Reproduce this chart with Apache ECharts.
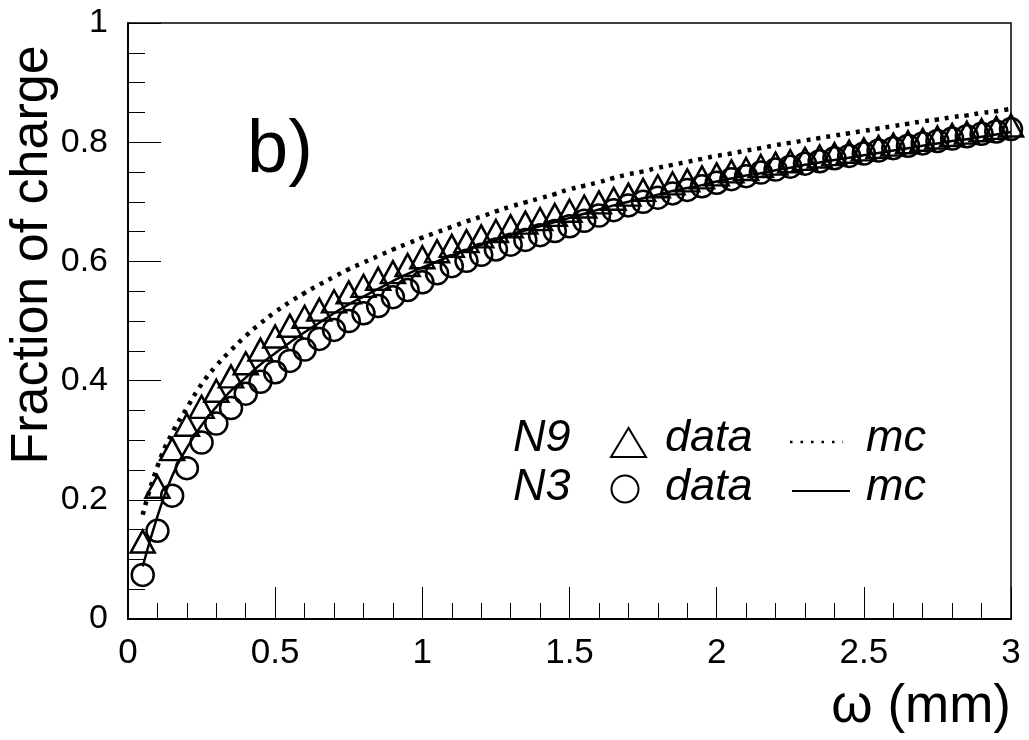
<!DOCTYPE html>
<html>
<head>
<meta charset="utf-8">
<script src="https://cdn.jsdelivr.net/npm/echarts@6/dist/echarts.min.js"></script>
<style>html,body{margin:0;padding:0;background:#fff}#c{width:1029px;height:740px}</style>
</head>
<body>
<div id="c"></div>
<script>
const omega = [0.05,0.10,0.15,0.20,0.25,0.30,0.35,0.40,0.45,0.50,0.55,0.60,0.65,0.70,0.75,0.80,0.85,0.90,0.95,1.00,
  1.05,1.10,1.15,1.20,1.25,1.30,1.35,1.40,1.45,1.50,1.55,1.60,1.65,1.70,1.75,1.80,1.85,1.90,1.95,2.00,
  2.05,2.10,2.15,2.20,2.25,2.30,2.35,2.40,2.45,2.50,2.55,2.60,2.65,2.70,2.75,2.80,2.85,2.90,2.95,3.00];

const n9Data = [0.130,0.222,0.285,0.326,0.356,0.383,0.407,0.429,0.452,0.474,0.492,0.507,0.519,0.533,0.548,0.559,0.571,0.582,0.594,0.607,
  0.617,0.626,0.634,0.642,0.651,0.659,0.665,0.671,0.678,0.685,0.692,0.699,0.705,0.712,0.720,0.726,0.731,0.736,0.741,0.746,
  0.751,0.755,0.760,0.764,0.768,0.772,0.776,0.780,0.784,0.788,0.792,0.796,0.800,0.804,0.808,0.812,0.816,0.820,0.824,0.828];

const n3Data = [0.074,0.148,0.207,0.253,0.296,0.328,0.354,0.378,0.398,0.414,0.433,0.452,0.470,0.485,0.500,0.513,0.525,0.540,0.552,0.565,
  0.580,0.592,0.601,0.611,0.620,0.628,0.636,0.644,0.651,0.659,0.668,0.677,0.686,0.694,0.700,0.707,0.714,0.720,0.726,0.732,
  0.738,0.743,0.749,0.754,0.759,0.764,0.768,0.773,0.777,0.781,0.786,0.790,0.794,0.798,0.802,0.806,0.810,0.814,0.818,0.822];

const n9Mc = [0.175,0.256,0.312,0.354,0.394,0.425,0.451,0.475,0.496,0.515,0.532,0.547,0.561,0.574,0.587,0.598,0.609,0.620,0.630,0.640,
  0.649,0.658,0.667,0.675,0.684,0.692,0.699,0.706,0.713,0.721,0.727,0.733,0.740,0.746,0.751,0.757,0.762,0.767,0.772,0.777,
  0.781,0.786,0.790,0.795,0.799,0.803,0.807,0.811,0.815,0.819,0.823,0.827,0.831,0.835,0.838,0.842,0.845,0.849,0.852,0.856];

const n3Mc = [0.088,0.172,0.240,0.287,0.325,0.356,0.383,0.405,0.427,0.446,0.464,0.481,0.497,0.513,0.528,0.541,0.554,0.567,0.579,0.590,
  0.600,0.610,0.619,0.628,0.636,0.644,0.652,0.659,0.666,0.673,0.680,0.687,0.694,0.700,0.706,0.712,0.718,0.723,0.728,0.734,
  0.739,0.744,0.748,0.753,0.757,0.762,0.766,0.770,0.774,0.778,0.782,0.786,0.790,0.794,0.798,0.802,0.805,0.809,0.813,0.817];

const pair = ys => omega.map((x, i) => [x, ys[i]]);
const FONT = 'Liberation Sans, Arial, Helvetica, sans-serif';
const fmt = v => String(Math.round(v * 10) / 10);

const chart = echarts.init(document.getElementById('c'), null, {renderer: 'canvas'});
chart.setOption({
  animation: false,
  backgroundColor: '#fff',
  grid: {left: 128, top: 23, width: 883, height: 596, show: true, borderColor: '#000', borderWidth: 1.5, backgroundColor: 'transparent'},
  xAxis: {
    type: 'value', min: 0, max: 3, interval: 0.5,
    axisLine: {show: true, onZero: false, lineStyle: {color: '#000', width: 2}},
    axisTick: {show: true, inside: true, length: 32, lineStyle: {color: '#000', width: 1}},
    minorTick: {show: true, splitNumber: 5, length: 16, lineStyle: {color: '#000', width: 1}},
    splitLine: {show: false},
    axisLabel: {color: '#000', fontSize: 35, fontFamily: FONT, margin: 17, formatter: fmt}
  },
  yAxis: {
    type: 'value', min: 0, max: 1, interval: 0.2,
    axisLine: {show: true, onZero: false, lineStyle: {color: '#000', width: 2}},
    axisTick: {show: true, inside: true, length: 33, lineStyle: {color: '#000', width: 1}},
    minorTick: {show: true, splitNumber: 4, length: 17, lineStyle: {color: '#000', width: 1}},
    splitLine: {show: false},
    axisLabel: {color: '#000', fontSize: 34, fontFamily: FONT, margin: 20, formatter: fmt}
  },
  series: [
    {name: 'N3 data', type: 'line', data: pair(n3Data), lineStyle: {width: 0, opacity: 0}, symbol: 'circle', symbolSize: 22,
     itemStyle: {color: 'transparent', borderColor: '#000', borderWidth: 2.5}, z: 3},
    {name: 'N9 data', type: 'line', data: pair(n9Data), lineStyle: {width: 0, opacity: 0}, symbol: 'triangle', symbolSize: [24, 22],
     itemStyle: {color: 'transparent', borderColor: '#000', borderWidth: 2.5}, z: 3},
    {name: 'N9 mc', type: 'line', data: pair(n9Mc), smooth: true, showSymbol: false, symbol: 'none',
     lineStyle: {color: '#000', width: 4.5, type: [4, 6]}, z: 4},
    {name: 'N3 mc', type: 'line', data: pair(n3Mc), smooth: true, showSymbol: false, symbol: 'none',
     lineStyle: {color: '#000', width: 2.5}, z: 4}
  ],
  graphic: [
    {type: 'text', x: 33, y: 255, rotation: Math.PI / 2,
     style: {text: 'Fraction of charge', font: '52px ' + FONT, fill: '#000', align: 'center', verticalAlign: 'middle'}},
    {type: 'text', x: 1011, y: 707,
     style: {text: 'ω (mm)', font: '53px ' + FONT, fill: '#000', align: 'right', verticalAlign: 'middle'}},
    {type: 'text', x: 247, y: 152,
     style: {text: 'b)', font: '74px ' + FONT, fill: '#000', align: 'left', verticalAlign: 'middle'}},
    {type: 'text', x: 513, y: 438, style: {text: 'N9', font: 'italic 45px ' + FONT, fill: '#000', align: 'left', verticalAlign: 'middle'}},
    {type: 'polygon', shape: {points: [[628.5, 428], [611, 457], [646, 457]]}, style: {fill: 'none', stroke: '#000', lineWidth: 2}},
    {type: 'text', x: 665, y: 438, style: {text: 'data', font: 'italic 45px ' + FONT, fill: '#000', align: 'left', verticalAlign: 'middle'}},
    {type: 'line', shape: {x1: 790, y1: 442, x2: 843, y2: 442}, style: {stroke: '#000', lineWidth: 2.5, lineDash: [2.5, 8]}},
    {type: 'text', x: 866, y: 438, style: {text: 'mc', font: 'italic 45px ' + FONT, fill: '#000', align: 'left', verticalAlign: 'middle'}},
    {type: 'text', x: 513, y: 487, style: {text: 'N3', font: 'italic 45px ' + FONT, fill: '#000', align: 'left', verticalAlign: 'middle'}},
    {type: 'circle', shape: {cx: 625, cy: 489, r: 13.5}, style: {fill: 'none', stroke: '#000', lineWidth: 2}},
    {type: 'text', x: 665, y: 487, style: {text: 'data', font: 'italic 45px ' + FONT, fill: '#000', align: 'left', verticalAlign: 'middle'}},
    {type: 'line', shape: {x1: 792, y1: 491, x2: 850, y2: 491}, style: {stroke: '#000', lineWidth: 2}},
    {type: 'text', x: 866, y: 487, style: {text: 'mc', font: 'italic 45px ' + FONT, fill: '#000', align: 'left', verticalAlign: 'middle'}}
  ]
});
</script>
</body>
</html>
